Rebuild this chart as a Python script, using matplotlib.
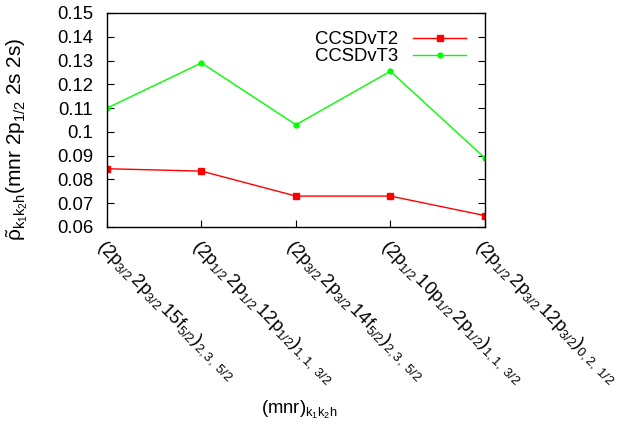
import matplotlib
matplotlib.use('Agg')
import matplotlib.pyplot as plt

plt.rcParams['font.family'] = ['Liberation Sans', 'DejaVu Sans']
plt.rcParams['mathtext.fontset'] = 'custom'
plt.rcParams['mathtext.rm'] = 'Liberation Sans'
plt.rcParams['mathtext.it'] = 'Liberation Sans'
plt.rcParams['mathtext.bf'] = 'Liberation Sans:bold'

labels = [
    r'$(2p_{3/2}\,2p_{3/2}\,15f_{5/2})_{2,3,\ 5/2}$',
    r'$(2p_{1/2}\,2p_{1/2}\,12p_{1/2})_{1,1,\ 3/2}$',
    r'$(2p_{3/2}\,2p_{3/2}\,14f_{5/2})_{2,3,\ 5/2}$',
    r'$(2p_{1/2}\,10p_{1/2}\,2p_{1/2})_{1,1,\ 3/2}$',
    r'$(2p_{1/2}\,2p_{3/2}\,12p_{3/2})_{0,2,\ 1/2}$',
]
ccsdvt2 = [0.0845, 0.0835, 0.073, 0.073, 0.0648]
ccsdvt3 = [0.110, 0.129, 0.103, 0.1255, 0.089]
yticks = [0.06, 0.07, 0.08, 0.09, 0.1, 0.11, 0.12, 0.13, 0.14, 0.15]

fs = 13.3
fig = plt.figure(figsize=(6.24, 4.43), dpi=100)
ax = fig.add_axes([0.1715, 0.4876, 0.6055, 0.4831])
x = list(range(len(labels)))
ax.plot(x, ccsdvt2, color='#ff0000', lw=1.0, marker='s', ms=5, label='CCSDvT2')
ax.plot(x, ccsdvt3, color='#00ff00', lw=1.0, marker='o', ms=3.5, label='CCSDvT3')

ax.set_xlim(0, 4)
ax.set_ylim(0.06, 0.15)
ax.set_yticks(yticks)
ax.set_yticklabels(['%g' % v for v in yticks], fontsize=fs)
ax.set_xticks(x)
ax.set_xticklabels(labels, rotation=-45, ha='left', va='top',
                   rotation_mode='anchor', fontsize=fs)
ax.tick_params(axis='y', direction='in', right=True, length=5, width=0.8, pad=10)
ax.tick_params(axis='x', direction='in', top=False, length=5, width=0.8, pad=7)
for s in ax.spines.values():
    s.set_linewidth(1.0)

ax.set_ylabel(r'$\tilde{\rho}_{k_1k_2h}(mnr\ 2p_{1/2}\ 2s\ 2s)$', fontsize=15)
ax.yaxis.set_label_coords(-0.205, 0.41)
fig.text(0.48, 0.075, r'$(mnr)_{k_1k_2h}$', ha='center', va='center', fontsize=fs)

ax.legend(loc='upper right', frameon=False, markerfirst=False, fontsize=fs,
          handlelength=2.9, borderaxespad=0.9, labelspacing=0.0, handletextpad=0.8,
          borderpad=0.1)

fig.savefig('out.png', dpi=100)
